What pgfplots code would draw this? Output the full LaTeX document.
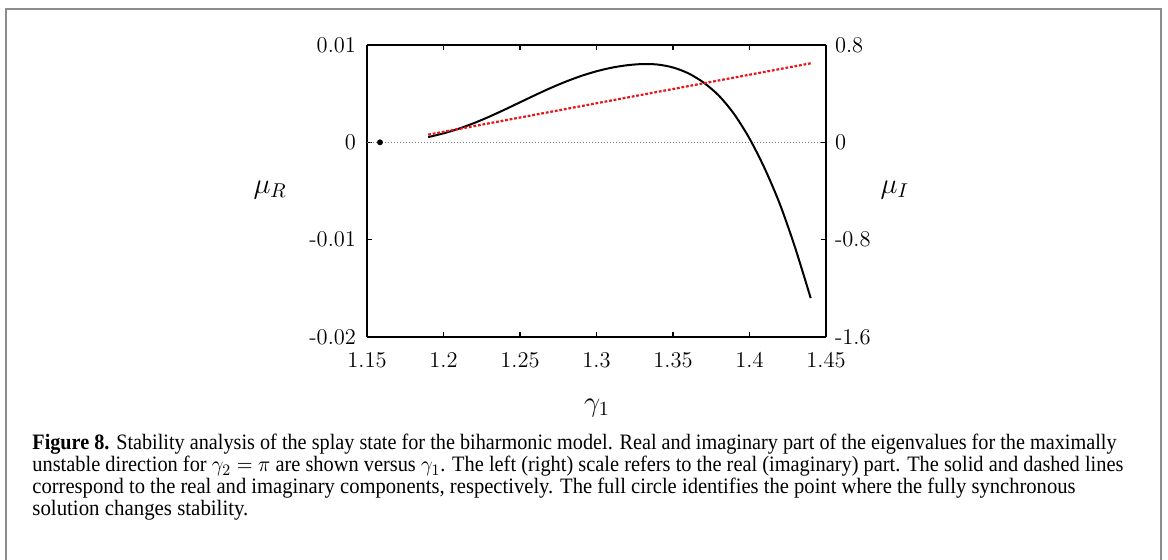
\documentclass[border=0pt]{standalone}
\usepackage{fontspec}
\usepackage{graphicx}
\usepackage{pgfplots}
\pgfplotsset{compat=1.18}
\newfontfamily\capfont{Liberation Serif}
\definecolor{framegray}{HTML}{8C8C8C}
\definecolor{redline}{HTML}{E8161B}
\newcommand{\tickfont}{\fontsize{11.25}{13}\selectfont}
\newcommand{\labfont}{\fontsize{14}{16}\selectfont}
\newcommand{\capline}[2]{\resizebox{#1}{\height}{\capfont\fontsize{11}{13}\selectfont #2}}

\begin{document}
\begin{tikzpicture}[x=1pt,y=1pt]
\path[use as bounding box] (0,0) rectangle (584,280);
\draw[framegray, line width=0.8pt] (3,0) -- (3,275.5) -- (580.5,275.5) -- (580.5,0);

\begin{axis}[
  at={(183.5pt,111.5pt)}, anchor=south west,
  scale only axis, width=229.5pt, height=146pt,
  xmin=1.15, xmax=1.45, ymin=-0.02, ymax=0.01,
  axis y line*=left,
  axis line style={line width=0.9pt},
  major tick style={line width=0.6pt, black},
  major tick length=2.5pt,
  xtick={1.15,1.2,1.25,1.3,1.35,1.4,1.45},
  xticklabels={1.15,1.2,1.25,1.3,1.35,1.4,1.45},
  ytick={-0.02,-0.01,0,0.01},
  yticklabels={-0.02,-0.01,0,0.01},
  scaled ticks=false,
  tick label style={font=\tickfont},
  xticklabel style={yshift=-4pt},
  yticklabel style={xshift=-2pt},
  xlabel={$\gamma_1$},
  xlabel style={font=\labfont, at={(axis description cs:0.501,-0.243)}, anchor=center},
  ylabel={$\mu_R$},
  ylabel style={font=\labfont, at={(axis description cs:-0.211,0.503)}, anchor=center, rotate=-90},
  clip=false,
]
\addplot[gray, densely dotted, line width=0.5pt] coordinates {(1.15,0) (1.45,0)};
\addplot[black, line width=1pt, smooth, tension=0.5] coordinates {
(1.19,0.00054) (1.20,0.00092) (1.21,0.00140) (1.22,0.00198) (1.23,0.00264)
(1.24,0.00336) (1.25,0.00411) (1.26,0.00486) (1.27,0.00558) (1.28,0.00624)
(1.29,0.00682) (1.30,0.00730) (1.31,0.00767) (1.32,0.00792) (1.33,0.00804)
(1.34,0.00799) (1.35,0.00769) (1.36,0.00709) (1.37,0.00614) (1.38,0.00479)
(1.39,0.00289) (1.40,0.00039) (1.41,-0.00271) (1.42,-0.00641) (1.43,-0.01091)
(1.44,-0.01601)};
\addplot[black, only marks, mark=*, mark size=1.25pt] coordinates {(1.1585,0)};
\end{axis}

\begin{axis}[
  at={(183.5pt,111.5pt)}, anchor=south west,
  scale only axis, width=229.5pt, height=146pt,
  xmin=1.15, xmax=1.45, ymin=-1.6, ymax=0.8,
  axis y line*=right, axis x line=none,
  axis line style={line width=0.9pt},
  major tick style={line width=0.6pt, black},
  major tick length=2.5pt,
  ytick={-1.6,-0.8,0,0.8},
  yticklabels={-1.6,-0.8,0,0.8},
  scaled ticks=false,
  tick label style={font=\tickfont},
  yticklabel style={xshift=1pt},
  ylabel={$\mu_I$},
  ylabel style={font=\labfont, at={(axis description cs:1.150,0.503)}, anchor=center, rotate=-90},
  clip=false,
]
\addplot[redline, line width=1.1pt, dash pattern=on 1.4pt off 0.9pt] coordinates {(1.190,0.063) (1.440,0.6495)};
\end{axis}

\node[anchor=base west, inner sep=0] at (16,55) {\capline{542pt}{\textbf{Figure 8.} Stability analysis of the splay state for the biharmonic model. Real and imaginary part of the eigenvalues for the maximally}};
\node[anchor=base west, inner sep=0] at (16,44) {\capline{545.5pt}{unstable direction for $\gamma_2=\pi$ are shown versus $\gamma_1$. The left (right) scale refers to the real (imaginary) part. The solid and dashed lines}};
\node[anchor=base west, inner sep=0] at (16,33) {\capline{521.5pt}{correspond to the real and imaginary components, respectively. The full circle identifies the point where the fully synchronous}};
\node[anchor=base west, inner sep=0] at (16,22) {\capline{108pt}{solution changes stability.}};
\end{tikzpicture}
\end{document}
